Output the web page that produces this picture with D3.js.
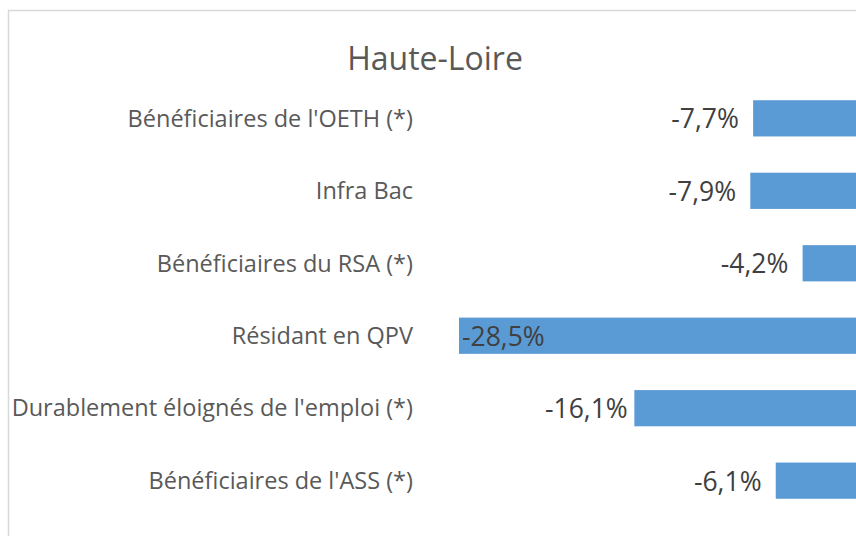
<!DOCTYPE html>
<html>
<head>
<meta charset="utf-8">
<script src="https://cdn.jsdelivr.net/npm/d3@7"></script>
<style>
  html, body { margin: 0; padding: 0; background: #fff; }
  svg { display: block; }
</style>
</head>
<body>
<svg id="chart" width="856" height="536"></svg>
<script>
(function(){
'use strict';

var title = "Haute-Loire";
var categories = [
    "Bénéficiaires de l'OETH (*)",
    "Infra Bac",
    "Bénéficiaires du RSA (*)",
    "Résidant en QPV",
    "Durablement éloignés de l'emploi (*)",
    "Bénéficiaires de l'ASS (*)"
];
var values = [-7.7, -7.9, -4.2, -28.5, -16.1, -6.1];

var width = 856, height = 536,
    plotLeft = 459, plotRight = 862,
    fontFamily = "'Open Sans', sans-serif";

var svg = d3.select('#chart');

// chart frame
svg.append('rect')
    .attr('x', 8.5).attr('y', 10.5)
    .attr('width', width).attr('height', height)
    .attr('fill', '#fff')
    .attr('stroke', '#d9d9d9')
    .attr('stroke-width', 1.5);

svg.append('text')
    .attr('x', 435).attr('y', 57)
    .attr('text-anchor', 'middle')
    .attr('dominant-baseline', 'central')
    .attr('font-family', fontFamily)
    .attr('font-size', 32)
    .attr('fill', '#595959')
    .text(title);

var xScale = d3.scaleLinear()
    .domain([d3.min(values), 0])
    .range([plotLeft, plotRight]);

var yScale = d3.scaleBand()
    .domain(categories)
    .range([64, 535])
    .paddingInner(0.5)
    .paddingOuter(0.5);

var yAxis = d3.axisLeft(yScale).tickSize(0).tickPadding(0);
var axisG = svg.append('g')
    .attr('transform', 'translate(413,0)')
    .call(yAxis);
axisG.select('.domain').remove();
axisG.selectAll('text')
    .attr('font-family', fontFamily)
    .attr('font-size', 23.5)
    .attr('dy', '0.35em')
    .attr('fill', '#595959');

var fmt = function(v) { return d3.format('.1f')(v).replace('.', ',').replace('−', '-') + '%'; };

var rows = svg.selectAll('g.row').data(values).enter().append('g').attr('class', 'row');

rows.append('rect')
    .attr('x', function(d) { return xScale(d); })
    .attr('y', function(d, i) { return yScale(categories[i]); })
    .attr('width', function(d) { return xScale(0) - xScale(d); })
    .attr('height', yScale.bandwidth())
    .attr('fill', '#5b9bd5');

rows.append('text')
    .attr('y', function(d, i) { return yScale(categories[i]) + yScale.bandwidth() / 2; })
    .attr('dominant-baseline', 'central')
    .attr('font-family', fontFamily)
    .attr('font-size', 26.5)
    .attr('fill', '#404040')
    .text(fmt)
    .each(function(d) {
        var w = this.getComputedTextLength(),
            x = xScale(d),
            cx = Math.min(x - 48, x - 4 - w / 2);
        if (cx - w / 2 < 420) {
            d3.select(this).attr('x', x + 3).attr('text-anchor', 'start');
        } else {
            d3.select(this).attr('x', cx).attr('text-anchor', 'middle');
        }
    });

})();
</script>
</body>
</html>
